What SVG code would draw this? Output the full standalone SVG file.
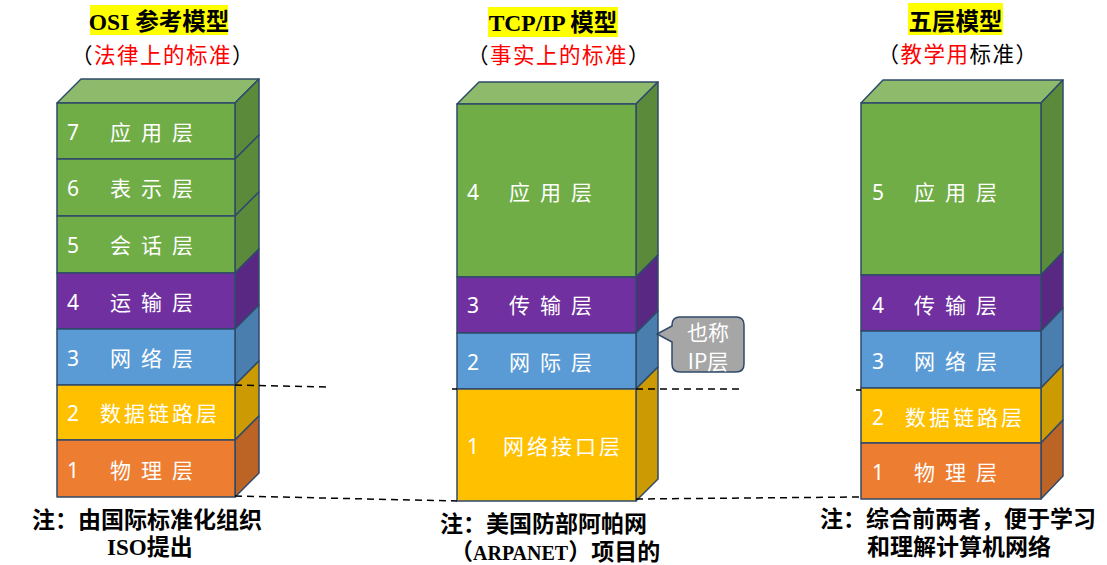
<svg xmlns="http://www.w3.org/2000/svg" width="1107" height="565" viewBox="0 0 1107 565">
<style>
.ol{stroke:#2F4A6A;stroke-width:1.5;stroke-linejoin:round}
.gf{fill:#70AD47}.gt{fill:#8DBB6B}.gs{fill:#5A8A3A}
.pf{fill:#7030A0}.ps{fill:#582882}
.bf{fill:#5B9BD5}.bs{fill:#4A7EAE}
.yf{fill:#FFC000}.ys{fill:#CC9A02}
.of{fill:#ED7D31}.os{fill:#BC6326}
.num{font-family:"Noto Sans","Noto Sans CJK SC",sans-serif;font-size:21px;fill:#fff}
.l3{font-family:"Noto Sans CJK SC",sans-serif;font-size:21px;fill:#fff;letter-spacing:10px}
.l5{font-family:"Noto Sans CJK SC",sans-serif;font-size:21px;fill:#fff;letter-spacing:3px}
.t1{font-family:"Liberation Serif","Noto Sans CJK SC",serif;font-weight:bold;font-size:23.5px;fill:#000}
.t2{font-family:"Noto Sans CJK SC",sans-serif;font-size:21.5px;fill:#000;letter-spacing:1.5px}
.red{fill:#FF0000}
.hl{fill:#FFFF00}
.note{font-family:"Liberation Serif","Noto Sans CJK SC",serif;font-weight:bold;font-size:23px;fill:#000}
.dash{stroke:#000;stroke-width:1.5;stroke-dasharray:7 5;fill:none}
.call{fill:#A6A6A6;stroke:#2F4A6A;stroke-width:1.5}
.ct{font-family:"Noto Sans CJK SC",sans-serif;font-size:21px;fill:#fff;text-anchor:middle}
</style>

<!-- Titles -->
<g id="title-osi">
<rect class="hl" x="90" y="5" width="138" height="30"/>
<text class="t1" x="159" y="30" text-anchor="middle">OSI 参考模型</text>
<text class="t2" x="163" y="62.5" text-anchor="middle">（<tspan class="red">法律上的标准</tspan>）</text>
</g>
<g id="title-tcpip">
<rect class="hl" x="488" y="7" width="130" height="30"/>
<text class="t1" x="553" y="31" text-anchor="middle">TCP/IP 模型</text>
<text class="t2" x="559" y="62.5" text-anchor="middle">（<tspan class="red">事实上的标准</tspan>）</text>
</g>
<g id="title-five">
<rect class="hl" x="908" y="3" width="95" height="32"/>
<text class="t1" x="955.5" y="29.5" text-anchor="middle">五层模型</text>
<text class="t2" x="958" y="62" text-anchor="middle">（<tspan class="red">教学用</tspan>标准）</text>
</g>

<!-- OSI stack -->
<g id="osi-stack">
<g id="osi-7">
<polygon class="gt ol" points="57,103 81,79 259,79 235,103"/>
<polygon class="gs ol" points="235,103 259,79 259,135 235,159"/>
<rect class="gf ol" x="57" y="103" width="178" height="56"/>
<text class="num" x="67" y="140">7</text><text class="l3" x="110" y="140">应用层</text>
</g>
<g id="osi-6">
<polygon class="gs ol" points="235,159 259,135 259,192 235,216"/>
<rect class="gf ol" x="57" y="159" width="178" height="57"/>
<text class="num" x="67" y="196">6</text><text class="l3" x="110" y="196">表示层</text>
</g>
<g id="osi-5">
<polygon class="gs ol" points="235,216 259,192 259,249 235,273"/>
<rect class="gf ol" x="57" y="216" width="178" height="57"/>
<text class="num" x="67" y="253">5</text><text class="l3" x="110" y="253">会话层</text>
</g>
<g id="osi-4">
<polygon class="ps ol" points="235,273 259,249 259,305 235,329"/>
<rect class="pf ol" x="57" y="273" width="178" height="56"/>
<text class="num" x="67" y="310">4</text><text class="l3" x="110" y="310">运输层</text>
</g>
<g id="osi-3">
<polygon class="bs ol" points="235,329 259,305 259,361 235,385"/>
<rect class="bf ol" x="57" y="329" width="178" height="56"/>
<text class="num" x="67" y="366">3</text><text class="l3" x="110" y="366">网络层</text>
</g>
<g id="osi-2">
<polygon class="ys ol" points="235,385 259,361 259,416 235,440"/>
<rect class="yf ol" x="57" y="385" width="178" height="55"/>
<text class="num" x="67" y="421">2</text><text class="l5" x="100" y="421">数据链路层</text>
</g>
<g id="osi-1">
<polygon class="os ol" points="235,440 259,416 259,473 235,497"/>
<rect class="of ol" x="57" y="440" width="178" height="57"/>
<text class="num" x="67" y="478">1</text><text class="l3" x="110" y="478">物理层</text>
</g>
</g>

<!-- TCP/IP stack -->
<g id="tcpip-stack">
<g id="tcp-4">
<polygon class="gt ol" points="457,104 479,82 658,82 636,104"/>
<polygon class="gs ol" points="636,104 658,82 658,255 636,277"/>
<rect class="gf ol" x="457" y="104" width="179" height="173"/>
<text class="num" x="467" y="200">4</text><text class="l3" x="509" y="200">应用层</text>
</g>
<g id="tcp-3">
<polygon class="ps ol" points="636,277 658,255 658,311 636,333"/>
<rect class="pf ol" x="457" y="277" width="179" height="56"/>
<text class="num" x="467" y="313">3</text><text class="l3" x="509" y="313">传输层</text>
</g>
<g id="tcp-2">
<polygon class="bs ol" points="636,333 658,311 658,367 636,389"/>
<rect class="bf ol" x="457" y="333" width="179" height="56"/>
<text class="num" x="467" y="370">2</text><text class="l3" x="509" y="370">网际层</text>
</g>
<g id="tcp-1">
<polygon class="ys ol" points="636,389 658,367 658,479 636,501"/>
<rect class="yf ol" x="457" y="389" width="179" height="112"/>
<text class="num" x="467" y="454">1</text><text class="l5" x="503" y="454">网络接口层</text>
</g>
</g>

<!-- Five-layer stack -->
<g id="five-stack">
<g id="five-5">
<polygon class="gt ol" points="861,103 883,80 1063,80 1041,103"/>
<polygon class="gs ol" points="1041,103 1063,80 1063,252 1041,275"/>
<rect class="gf ol" x="861" y="103" width="180" height="172"/>
<text class="num" x="872" y="200">5</text><text class="l3" x="914" y="200">应用层</text>
</g>
<g id="five-4">
<polygon class="ps ol" points="1041,275 1063,252 1063,308 1041,331"/>
<rect class="pf ol" x="861" y="275" width="180" height="56"/>
<text class="num" x="872" y="313">4</text><text class="l3" x="914" y="313">传输层</text>
</g>
<g id="five-3">
<polygon class="bs ol" points="1041,331 1063,308 1063,365 1041,388"/>
<rect class="bf ol" x="861" y="331" width="180" height="57"/>
<text class="num" x="872" y="369">3</text><text class="l3" x="914" y="369">网络层</text>
</g>
<g id="five-2">
<polygon class="ys ol" points="1041,388 1063,365 1063,420 1041,443"/>
<rect class="yf ol" x="861" y="388" width="180" height="55"/>
<text class="num" x="872" y="425">2</text><text class="l5" x="905" y="425">数据链路层</text>
</g>
<g id="five-1">
<polygon class="os ol" points="1041,443 1063,420 1063,476 1041,499"/>
<rect class="of ol" x="861" y="443" width="180" height="56"/>
<text class="num" x="872" y="480">1</text><text class="l3" x="914" y="480">物理层</text>
</g>
</g>

<!-- Callout -->
<g id="callout-ip">
<path class="call" d="M680,317 H736 Q744,317 744,325 V364 Q744,372 736,372 H680 Q672,372 672,364 V342 L657,334 L672,326 V325 Q672,317 680,317 Z"/>
<text class="ct" x="708" y="340">也称</text>
<text class="ct" x="708" y="369">IP层</text>
</g>

<!-- Connectors -->
<g id="connectors">
<line class="dash" x1="235" y1="385" x2="328" y2="387"/>
<line class="dash" x1="235" y1="496" x2="457" y2="501"/>
<line class="dash" x1="452" y1="389" x2="457" y2="389"/>
<line class="dash" x1="636" y1="389" x2="742" y2="389"/>
<line class="dash" x1="856" y1="390" x2="861" y2="390"/>
<line class="dash" x1="636" y1="499" x2="861" y2="497"/>
</g>

<!-- Notes -->
<g id="note-osi">
<text class="note" x="32" y="528">注：由国际标准化组织</text>
<text class="note" x="107" y="555">ISO提出</text>
</g>
<g id="note-tcpip">
<text class="note" x="440" y="532">注：美国防部阿帕网</text>
<text class="note" x="450" y="560">（<tspan font-size="20">ARPANET</tspan>）项目的</text>
</g>
<g id="note-five">
<text class="note" x="820" y="527">注：综合前两者，便于学习</text>
<text class="note" x="867" y="555">和理解计算机网络</text>
</g>
</svg>
